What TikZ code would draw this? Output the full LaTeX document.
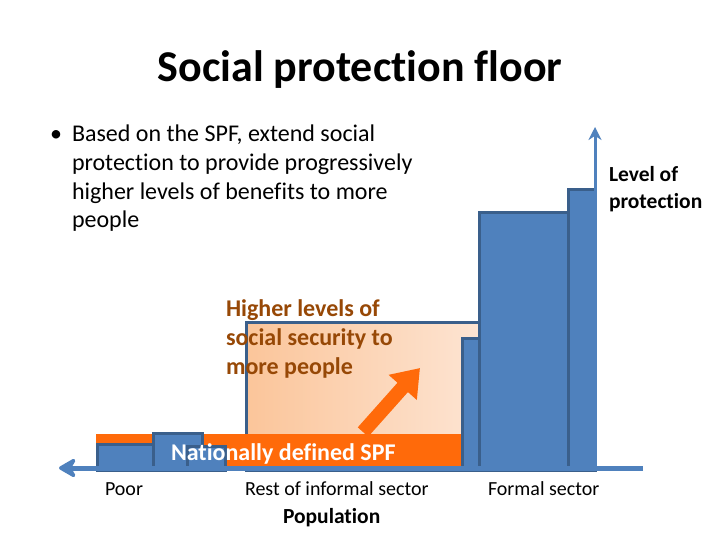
\documentclass[tikz,border=0pt]{standalone}
\usepackage{fontspec}
\setmainfont[Ligatures=NoCommon]{Carlito}
\usepackage{xcolor}
\usetikzlibrary{arrows.meta}
\definecolor{barblue}{HTML}{4F81BD}
\definecolor{barline}{HTML}{3A5F8B}
\definecolor{spforange}{HTML}{FF6A0A}
\definecolor{floorlow}{HTML}{FBC59A}
\definecolor{floorhigh}{HTML}{FDE4D2}
\definecolor{floorbrown}{HTML}{974806}
\tikzset{
	bar/.style       = {fill=barblue, draw=barline, line width=3pt},
	axis/.style      = {draw=barblue, line width=5pt},
	title/.style     = {font=\fontsize{44}{53}\selectfont\bfseries, anchor=base},
	bodytext/.style  = {font=\fontsize{24}{28.7}\selectfont, align=left, anchor=base west},
	sectortext/.style= {font=\fontsize{20}{24}\selectfont, anchor=base west},
	axistext/.style  = {font=\fontsize{21.5}{26}\selectfont\bfseries, align=left, anchor=base west},
	highertext/.style= {font=\fontsize{24}{29}\selectfont\bfseries, text=floorbrown, align=left, anchor=base west}
}
\begin{document}
\begin{tikzpicture}
[
x = 1pt, y = -1pt,
every node/.style = {inner sep=0pt, outer sep=0pt}
]
\useasboundingbox[fill=white] (0,0) rectangle (720,540);
\coordinate (origin) at (595,468);
\coordinate (xend)   at (643,468);
\coordinate (xtip)   at (59,468);
\coordinate (ytip)   at (595,127);
\coordinate (growtail) at (363,432);
\coordinate (growtip)  at (420,368);
% higher levels region
\path[draw=barline, line width=3pt, left color=floorlow, right color=floorhigh]
	(246,470) rectangle (479,322);
\draw[spforange, line width=14pt, -{Triangle[width=36pt, length=26pt]}]
	(growtail) -- (growtip);
% nationally defined floor
\fill[spforange] (96,434) rectangle (462,470);
\path[bar] (97,470) rectangle (153,444);
\path[bar] (153,470) rectangle (202,433);
\path[bar] (187,470) rectangle (225,446);
\path[bar] (462,470) rectangle (479,338);
\path[bar] (479,470) rectangle (568,213);
\path[bar] (568,470) rectangle (595,190);
% axes
\draw[axis, -{Stealth[length=21pt, width=24pt, inset=7pt, round]}] (xend) -- (xtip);
\draw[draw=barblue, line width=3pt, -{Stealth[length=13pt, width=13pt]}] (origin) -- (ytip);
% texts (base of a multi-line node is its last line)
\node[title] (heading) at (360,82) {Social protection floor};
\node[bodytext] (bullet) at (50,142) {\textbullet};
\node[bodytext] (goal) at (72,228) {Based on the SPF, extend social\\protection to provide progressively\\higher levels of benefits to more\\people};
\node[axistext] (ylabel) at (609,208) {Level of\\protection};
\node[highertext] (higher) at (226,374) {Higher levels of\\social security to\\more people};
\node[font=\fontsize{24}{29}\selectfont\bfseries, text=white, anchor=base west] (spf) at (171,460) {Nationally defined SPF};
\node[sectortext] (poor) at (105,495) {Poor};
\node[sectortext] (informal) at (245,495) {Rest of informal sector};
\node[sectortext] (formal) at (488,495) {Formal sector};
\node[axistext] (xlabel) at (283,523) {Population};
\end{tikzpicture}
\end{document}
